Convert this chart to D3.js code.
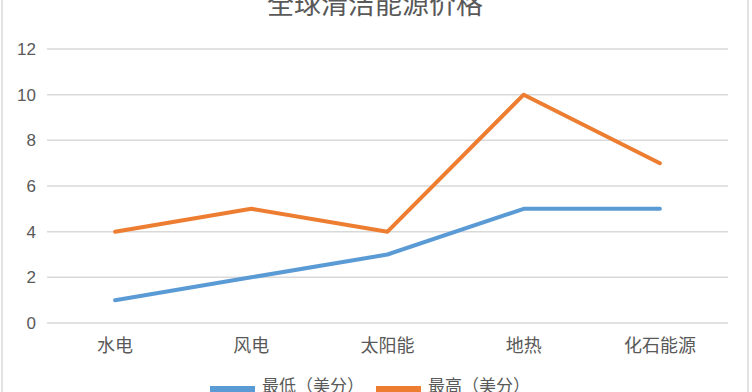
<!DOCTYPE html>
<html><head><meta charset="utf-8">
<script src="https://cdn.jsdelivr.net/npm/d3@7"></script>
<style>html,body{margin:0;padding:0;background:#fff;overflow:hidden}</style>
</head><body>
<script>
const title = "全球清洁能源价格";
const categories = ["水电", "风电", "太阳能", "地热", "化石能源"];
const seriesNames = ["最低（美分）", "最高（美分）"];
const lowValues = [1, 2, 3, 5, 5];
const highValues = [4, 5, 4, 10, 7];
const yTicks = [0, 2, 4, 6, 8, 10, 12];
const colors = ["#5B9BD5", "#ED7D31"];

const W = 752, H = 392;
const svg = d3.select("body").append("svg").attr("width", W).attr("height", H);
svg.append("rect").attr("width", W).attr("height", H).attr("fill", "#fff");
const cjk = "'Noto Sans CJK SC', 'Noto Sans', sans-serif";

// chart frame edges
svg.append("line").attr("x1", 2).attr("x2", 2).attr("y1", 0).attr("y2", H).attr("stroke", "#d9d9d9").attr("stroke-width", 1.5);
svg.append("line").attr("x1", 748).attr("x2", 748).attr("y1", 0).attr("y2", H).attr("stroke", "#d9d9d9").attr("stroke-width", 1.5);

const x = d3.scaleBand().domain(categories).range([47, 728]);
const y = d3.scaleLinear().domain([0, 12]).range([323, 49]);

// gridlines
svg.append("g").selectAll("line").data(yTicks).join("line")
  .attr("x1", 47).attr("x2", 728)
  .attr("y1", d => y(d)).attr("y2", d => y(d))
  .attr("stroke", "#d9d9d9").attr("stroke-width", 1.5);

// y axis
const yAxis = svg.append("g").attr("transform", "translate(36,0)")
  .call(d3.axisLeft(y).tickValues(yTicks).tickSize(0).tickPadding(0));
yAxis.select(".domain").remove();
yAxis.selectAll("text").attr("fill", "#595959").attr("font-size", 17)
  .attr("font-family", "'Liberation Sans', 'Noto Sans', sans-serif");

// x axis
const xAxis = svg.append("g").attr("transform", "translate(0,337)")
  .call(d3.axisBottom(x).tickSize(0).tickPadding(0));
xAxis.select(".domain").remove();
xAxis.selectAll("text").attr("fill", "#595959").attr("font-size", 18)
  .attr("font-family", cjk).attr("dy", "0.85em");

// lines
const line = d3.line().x((d, i) => x(categories[i]) + x.bandwidth() / 2).y(d => y(d));
[lowValues, highValues].forEach((vals, k) => {
  svg.append("path").datum(vals).attr("d", line)
    .attr("fill", "none").attr("stroke", colors[k]).attr("stroke-width", 4)
    .attr("stroke-linejoin", "round").attr("stroke-linecap", "round");
});

// title
svg.append("text").attr("x", 375).attr("y", 14).attr("text-anchor", "middle")
  .attr("font-size", 27).attr("fill", "#595959").attr("font-family", cjk).text(title);

// legend
const legendX = [210, 376];
seriesNames.forEach((name, k) => {
  svg.append("rect").attr("x", legendX[k]).attr("y", 386).attr("width", 45).attr("height", 8)
    .attr("fill", colors[k]);
  svg.append("text").attr("x", legendX[k] + 52).attr("y", 392)
    .attr("font-size", 17).attr("fill", "#595959").attr("font-family", cjk).text(name);
});
</script>
</body></html>
